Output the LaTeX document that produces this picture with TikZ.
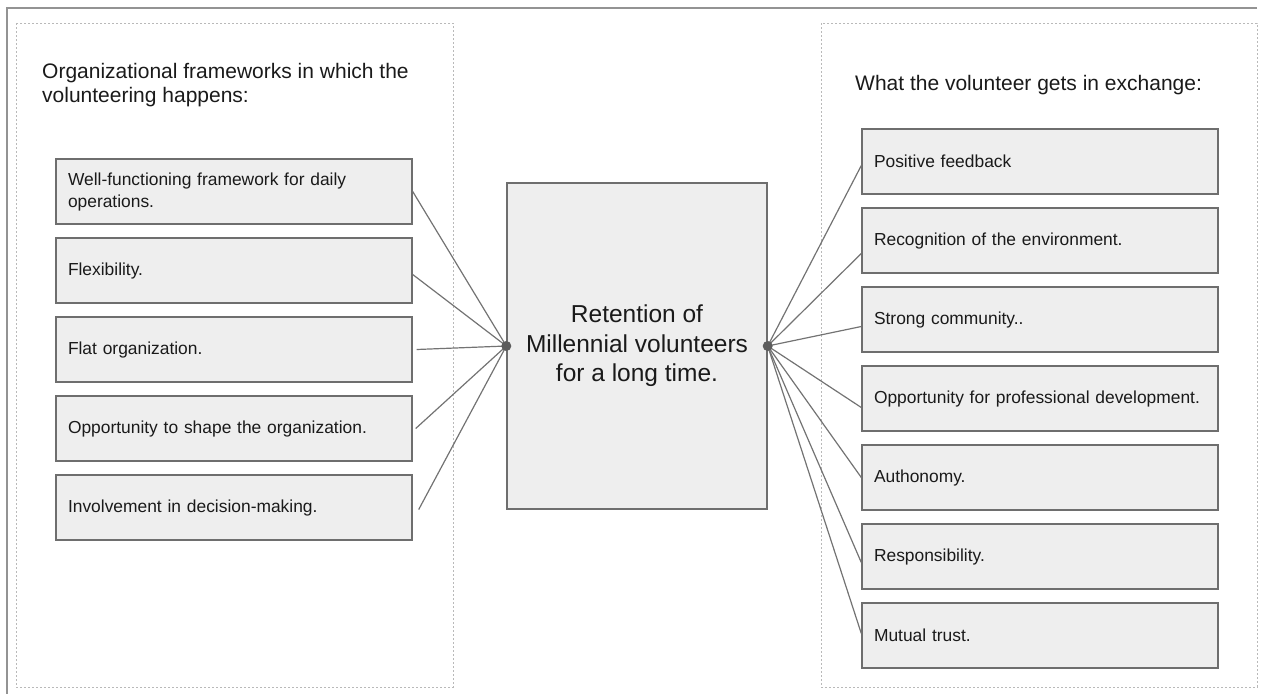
\documentclass[tikz,border=0pt]{standalone}
\usepackage{fontspec}
\setmainfont{Liberation Sans}
\usepackage{tikz}
\usetikzlibrary{shapes.geometric, arrows}
\definecolor{boxfill}{HTML}{EEEEEE}
\definecolor{boxline}{HTML}{6E6E6E}
\definecolor{wire}{HTML}{737373}
\definecolor{ink}{HTML}{1A1A1A}
\tikzstyle{item} = [rectangle, draw=boxline, line width=1.4pt, fill=boxfill, minimum width=356pt, minimum height=65pt, text width=332pt, inner xsep=12pt, align=left, text=ink, font=\fontsize{17.4}{22}\selectfont]
\tikzstyle{core} = [rectangle, draw=boxline, line width=1.4pt, fill=boxfill, minimum width=260pt, minimum height=326pt, align=center, text=ink, font=\fontsize{24.5}{29.5}\selectfont]
\tikzstyle{heading} = [inner sep=0pt, align=left, text=ink, font=\fontsize{21}{24}\selectfont]
\tikzstyle{panel} = [draw=gray!55, line width=0.8pt, dash pattern=on 2pt off 2pt]
\tikzstyle{link} = [draw=wire, line width=1.2pt]
\tikzstyle{hub} = [circle, fill=wire!80!black, inner sep=0pt, minimum size=10pt]

\begin{document}
\begin{tikzpicture}[x=1pt,y=-1pt]
            \useasboundingbox (0,0) rectangle (1268,694);
            \draw [gray!85, line width=1.4pt] (1257,8) -- (7,8) -- (7,694);
            \draw [panel] (16,23) rectangle (453,687);
            \draw [panel] (821,23) rectangle (1257,687);

            \node [heading, anchor=north west] at (42,63) (lefttitle) {Organizational frameworks in which the\\volunteering happens:};
            \node [heading, anchor=base west] at (855,90) (righttitle) {What the volunteer gets in exchange:};

            \node [core] at (637,346) (retention) {Retention of\\Millennial volunteers\\for a long time.};

            \node [item] at (234,191.5) (daily) {Well-functioning framework for daily\\operations.};
            \node [item] at (234,270.5) (flex) {Flexibility.};
            \node [item] at (234,349.5) (flat) {Flat organization.};
            \node [item] at (234,428.5) (shape) {Opportunity to shape the organization.};
            \node [item] at (234,507.5) (involve) {Involvement in decision-making.};

            \node [item] at (1040,161.5) (feedback) {Positive feedback};
            \node [item] at (1040,240.5) (recog) {Recognition of the environment.};
            \node [item] at (1040,319.5) (community) {Strong community..};
            \node [item] at (1040,398.5) (develop) {Opportunity for professional development.};
            \node [item] at (1040,477.5) (autonomy) {Authonomy.};
            \node [item] at (1040,556.5) (respons) {Responsibility.};
            \node [item] at (1040,635.5) (trust) {Mutual trust.};

            \draw [link] (daily.east) -- (retention.west);
            \draw [link] ([yshift=-4pt]flex.east) -- (retention.west);
            \draw [link] ([xshift=4pt]flat.east) -- (retention.west);
            \draw [link] ([xshift=3pt]shape.east) -- (retention.west);
            \draw [link] ([xshift=6pt,yshift=-2pt]involve.east) -- (retention.west);

            \draw [link] (retention.east) -- ([yshift=-4pt]feedback.west);
            \draw [link] (retention.east) -- ([yshift=-13pt]recog.west);
            \draw [link] (retention.east) -- ([yshift=-7pt]community.west);
            \draw [link] (retention.east) -- ([yshift=-9pt]develop.west);
            \draw [link] (retention.east) -- (autonomy.west);
            \draw [link] (retention.east) -- ([yshift=-6pt]respons.west);
            \draw [link] (retention.east) -- ([yshift=2pt]trust.west);

            \node [hub] at (retention.west) (lefthub) {};
            \node [hub] at (retention.east) (righthub) {};
            \end{tikzpicture}
\end{document}
